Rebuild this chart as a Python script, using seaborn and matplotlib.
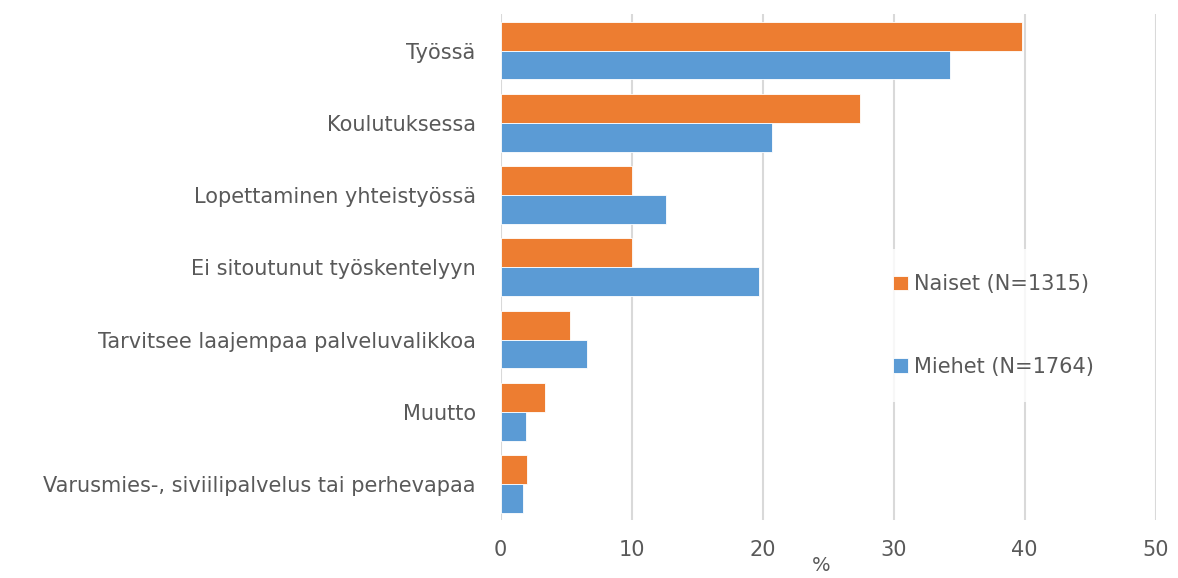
import pandas as pd
import matplotlib
matplotlib.use("Agg")
import matplotlib.pyplot as plt
import seaborn as sns

# Data
categories = ['Työssä', 'Koulutuksessa', 'Lopettaminen yhteistyössä',
              'Ei sitoutunut työskentelyyn', 'Tarvitsee laajempaa palveluvalikkoa',
              'Muutto', 'Varusmies-, siviilipalvelus tai perhevapaa']
naiset = [39.8, 27.4, 10.0, 10.0, 5.3, 3.4, 2.0]
miehet = [34.3, 20.7, 12.6, 19.7, 6.6, 1.9, 1.7]
series_names = ['Naiset (N=1315)', 'Miehet (N=1764)']
colors = ['#ED7D31', '#5B9BD5']
x_ticks = [0, 10, 20, 30, 40, 50]

df = pd.DataFrame({
    'kategoria': categories * 2,
    'arvo': naiset + miehet,
    'ryhma': [series_names[0]] * len(categories) + [series_names[1]] * len(categories),
})

sns.set_style('white')
plt.rcParams['font.family'] = ['DejaVu Sans']
text_color = '#595959'

fig, ax = plt.subplots(figsize=(11.78, 5.78), dpi=100)
fig.subplots_adjust(left=0.425, right=0.981, top=0.975, bottom=0.1)

sns.barplot(data=df, y='kategoria', x='arvo', hue='ryhma', order=categories,
            hue_order=series_names, palette=colors, saturation=1, width=0.8,
            orient='h', edgecolor='white', linewidth=0.6, ax=ax, zorder=3)

ax.set_xlim(0, 50)
ax.set_xticks(x_ticks)
ax.set_xticklabels([str(t) for t in x_ticks], fontsize=15, color=text_color)
ax.tick_params(axis='y', labelsize=15, labelcolor=text_color, length=0, pad=18)
ax.tick_params(axis='x', length=0, pad=14)
ax.xaxis.grid(True, color='#D9D9D9', linewidth=1.5, zorder=0)
ax.set_axisbelow(True)
for s in ax.spines.values():
    s.set_visible(False)

ax.set_ylabel('')
ax.set_xlabel('%', fontsize=14, color=text_color, labelpad=0)
ax.xaxis.set_label_coords(0.49, -0.07)

handles, labels = ax.get_legend_handles_labels()
leg = ax.legend(handles, labels, loc='center left', bbox_to_anchor=(0.545, 0.385),
                frameon=True, fontsize=15, labelspacing=3.0, handlelength=0.7,
                handleheight=0.7, handletextpad=0.3, borderpad=1.2)
leg.get_frame().set_facecolor('white')
leg.get_frame().set_linewidth(0)
leg.set_zorder(5)
for t in leg.get_texts():
    t.set_color(text_color)

fig.savefig('out.png', dpi=100, facecolor='white')
